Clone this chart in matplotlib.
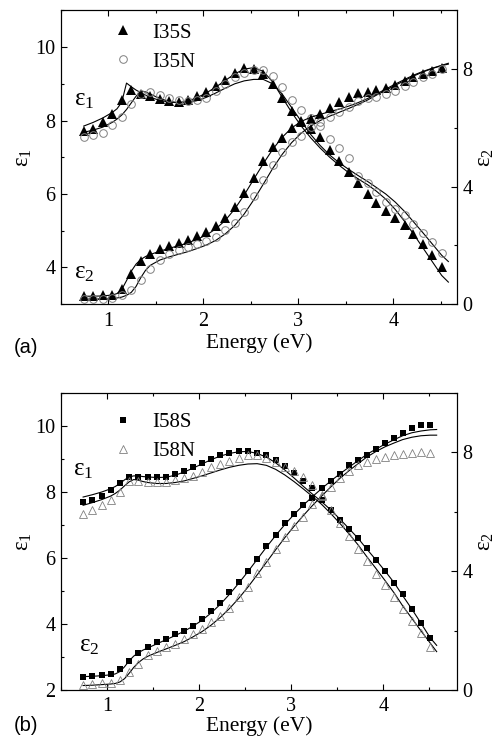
import matplotlib
matplotlib.use('Agg')
import matplotlib.pyplot as plt
from matplotlib.ticker import MultipleLocator

plt.rcParams['font.family'] = 'Liberation Serif'
plt.rcParams['mathtext.fontset'] = 'custom'
plt.rcParams['mathtext.rm'] = 'Liberation Serif'
plt.rcParams['mathtext.it'] = 'Liberation Serif'

# measured photon energies (eV)
energy = [0.74, 0.84, 0.94, 1.04, 1.14, 1.24, 1.34, 1.44, 1.54, 1.64,
          1.74, 1.84, 1.93, 2.03, 2.13, 2.23, 2.33, 2.43, 2.53, 2.63,
          2.73, 2.83, 2.93, 3.03, 3.13, 3.23, 3.33, 3.43, 3.53, 3.63,
          3.73, 3.82, 3.92, 4.02, 4.12, 4.21, 4.31, 4.41, 4.51]

# panel (a) data
i35s_e1 = [7.71, 7.78, 7.95, 8.19, 8.55, 8.84, 8.72, 8.66, 8.58, 8.53,
           8.51, 8.55, 8.66, 8.78, 8.93, 9.10, 9.30, 9.44, 9.40, 9.27,
           9.00, 8.61, 8.25, 7.98, 7.76, 7.54, 7.19, 6.90, 6.60, 6.31,
           6.00, 5.76, 5.54, 5.35, 5.15, 4.91, 4.64, 4.34, 4.02]
i35s_e2 = [0.27, 0.29, 0.30, 0.32, 0.53, 1.04, 1.46, 1.70, 1.86, 1.97,
           2.08, 2.17, 2.31, 2.46, 2.65, 2.94, 3.30, 3.78, 4.30, 4.87,
           5.34, 5.66, 6.00, 6.21, 6.30, 6.47, 6.68, 6.89, 7.04, 7.18,
           7.23, 7.30, 7.36, 7.46, 7.58, 7.74, 7.85, 7.95, 8.04]
i35n_e1 = [7.54, 7.60, 7.67, 7.87, 8.10, 8.46, 8.71, 8.79, 8.69, 8.60,
           8.56, 8.53, 8.56, 8.62, 8.81, 9.00, 9.19, 9.30, 9.37, 9.38,
           9.20, 8.91, 8.57, 8.28, 8.06, 7.84, 7.51, 7.26, 6.97, 6.49,
           6.30, 6.06, 5.79, 5.60, 5.43, 5.18, 4.94, 4.68, 4.39]
i35n_e2 = [0.19, 0.19, 0.19, 0.21, 0.31, 0.48, 0.81, 1.18, 1.49, 1.69,
           1.83, 1.95, 2.06, 2.14, 2.29, 2.51, 2.76, 3.13, 3.67, 4.21,
           4.72, 5.17, 5.51, 5.74, 6.02, 6.20, 6.36, 6.53, 6.70, 6.93,
           7.01, 7.04, 7.15, 7.27, 7.44, 7.55, 7.72, 7.83, 8.00]

# panel (b) data
i58s_e1 = [7.70, 7.76, 7.86, 8.04, 8.27, 8.46, 8.46, 8.44, 8.44, 8.46,
           8.54, 8.64, 8.74, 8.87, 8.99, 9.11, 9.17, 9.22, 9.22, 9.17,
           9.12, 8.96, 8.77, 8.56, 8.32, 8.11, 7.76, 7.46, 7.16, 6.88,
           6.61, 6.29, 5.94, 5.60, 5.25, 4.89, 4.46, 4.03, 3.57]
i58s_e2 = [0.45, 0.46, 0.50, 0.54, 0.69, 0.98, 1.26, 1.45, 1.60, 1.73,
           1.87, 1.99, 2.16, 2.38, 2.65, 2.94, 3.28, 3.63, 4.00, 4.40,
           4.83, 5.22, 5.61, 5.93, 6.23, 6.47, 6.80, 7.02, 7.27, 7.55,
           7.72, 7.91, 8.11, 8.30, 8.48, 8.65, 8.82, 8.92, 8.92]
i58n_e1 = [7.33, 7.45, 7.61, 7.75, 7.99, 8.34, 8.34, 8.31, 8.31, 8.31,
           8.37, 8.42, 8.49, 8.61, 8.74, 8.84, 8.94, 9.02, 9.12, 9.12,
           9.02, 8.89, 8.76, 8.62, 8.44, 8.21, 7.91, 7.45, 7.05, 6.66,
           6.28, 5.90, 5.52, 5.17, 4.81, 4.46, 4.08, 3.71, 3.30]
i58n_e2 = [0.17, 0.20, 0.22, 0.25, 0.34, 0.62, 0.89, 1.17, 1.32, 1.43,
           1.53, 1.70, 1.87, 2.04, 2.29, 2.48, 2.77, 3.13, 3.47, 3.92,
           4.31, 4.73, 5.14, 5.50, 5.82, 6.27, 6.54, 6.82, 7.12, 7.36,
           7.55, 7.68, 7.77, 7.85, 7.89, 7.94, 7.96, 8.00, 7.98]

# model fits (solid lines)
fit_energy = [0.74, 0.84, 0.94, 1.04, 1.09, 1.14, 1.19, 1.24, 1.29, 1.34,
              1.39, 1.44, 1.54, 1.64, 1.74, 1.84, 1.93, 2.03, 2.13, 2.23,
              2.33, 2.43, 2.53, 2.63, 2.73, 2.83, 2.93, 3.03, 3.13, 3.23,
              3.33, 3.43, 3.53, 3.63, 3.73, 3.82, 3.92, 4.02, 4.12, 4.21,
              4.31, 4.41, 4.51, 4.58]
fit_35s_e1 = [7.85, 7.95, 8.07, 8.22, 8.32, 8.50, 9.02, 8.92, 8.83, 8.76,
              8.69, 8.63, 8.55, 8.50, 8.49, 8.53, 8.62, 8.75, 8.91, 9.09,
              9.27, 9.40, 9.44, 9.34, 9.05, 8.63, 8.22, 7.85, 7.53, 7.25,
              7.00, 6.78, 6.58, 6.41, 6.25, 6.08, 5.86, 5.58, 5.25, 4.92,
              4.54, 4.16, 3.78, 3.60]
fit_35n_e1 = [7.68, 7.74, 7.82, 7.95, 8.04, 8.15, 8.30, 8.48, 8.66, 8.80,
              8.78, 8.72, 8.60, 8.52, 8.48, 8.49, 8.54, 8.63, 8.75, 8.88,
              9.00, 9.08, 9.12, 9.12, 9.00, 8.72, 8.35, 7.98, 7.62, 7.32,
              7.06, 6.85, 6.67, 6.50, 6.34, 6.18, 6.00, 5.78, 5.52, 5.25,
              4.95, 4.64, 4.33, 4.16]
fit_35s_e2 = [0.27, 0.27, 0.28, 0.31, 0.36, 0.50, 0.80, 1.12, 1.36, 1.52,
              1.62, 1.69, 1.80, 1.90, 1.99, 2.09, 2.20, 2.35, 2.56, 2.85,
              3.24, 3.72, 4.25, 4.78, 5.27, 5.68, 6.00, 6.22, 6.36, 6.46,
              6.55, 6.64, 6.74, 6.86, 7.00, 7.15, 7.32, 7.49, 7.65, 7.79,
              7.92, 8.03, 8.13, 8.20]
fit_35n_e2 = [0.17, 0.17, 0.18, 0.19, 0.21, 0.24, 0.30, 0.40, 0.60, 0.90,
              1.15, 1.32, 1.50, 1.61, 1.70, 1.79, 1.89, 2.01, 2.17, 2.39,
              2.68, 3.07, 3.55, 4.08, 4.62, 5.10, 5.50, 5.82, 6.06, 6.25,
              6.40, 6.53, 6.66, 6.80, 6.95, 7.11, 7.28, 7.45, 7.61, 7.76,
              7.90, 8.02, 8.12, 8.17]
fit_58s_e1 = [7.84, 7.91, 7.99, 8.09, 8.16, 8.25, 8.36, 8.45, 8.48, 8.48,
              8.46, 8.45, 8.43, 8.44, 8.50, 8.60, 8.71, 8.84, 8.97, 9.08,
              9.16, 9.21, 9.22, 9.16, 9.05, 8.88, 8.66, 8.42, 8.17, 7.93,
              7.70, 7.45, 7.17, 6.88, 6.58, 6.27, 5.94, 5.60, 5.24, 4.86,
              4.45, 4.02, 3.58, 3.35]
fit_58n_e1 = [7.59, 7.67, 7.76, 7.87, 7.95, 8.05, 8.18, 8.30, 8.37, 8.35,
              8.31, 8.28, 8.25, 8.25, 8.28, 8.33, 8.40, 8.48, 8.57, 8.66,
              8.74, 8.80, 8.84, 8.85, 8.80, 8.68, 8.51, 8.31, 8.09, 7.86,
              7.62, 7.34, 7.04, 6.72, 6.38, 6.04, 5.68, 5.31, 4.93, 4.55,
              4.17, 3.79, 3.42, 3.16]
fit_58s_e2 = [0.45, 0.46, 0.48, 0.51, 0.54, 0.62, 0.78, 0.98, 1.14, 1.25,
              1.34, 1.41, 1.55, 1.69, 1.83, 1.98, 2.14, 2.34, 2.59, 2.88,
              3.22, 3.59, 3.98, 4.39, 4.80, 5.19, 5.56, 5.90, 6.21, 6.50,
              6.77, 7.03, 7.27, 7.50, 7.72, 7.92, 8.10, 8.27, 8.42, 8.55,
              8.65, 8.71, 8.75, 8.76]
fit_58n_e2 = [0.15, 0.16, 0.18, 0.20, 0.22, 0.27, 0.38, 0.56, 0.76, 0.92,
              1.04, 1.13, 1.26, 1.38, 1.50, 1.63, 1.78, 1.96, 2.18, 2.44,
              2.74, 3.08, 3.46, 3.87, 4.29, 4.71, 5.12, 5.50, 5.86, 6.20,
              6.52, 6.83, 7.12, 7.38, 7.62, 7.83, 8.02, 8.18, 8.31, 8.42,
              8.50, 8.55, 8.57, 8.57]

E1 = r'$\varepsilon_1$'
E2 = r'$\varepsilon_2$'
GRAY = '#808080'


def style_axes(ax, ax2, xlim, ylim1, ylim2):
    ax.set_xlim(*xlim)
    ax.set_ylim(*ylim1)
    ax2.set_ylim(*ylim2)
    ax.xaxis.set_major_locator(MultipleLocator(1))
    ax.xaxis.set_minor_locator(MultipleLocator(0.5))
    ax.yaxis.set_major_locator(MultipleLocator(2))
    ax.yaxis.set_minor_locator(MultipleLocator(1))
    ax2.yaxis.set_major_locator(MultipleLocator(4))
    ax2.yaxis.set_minor_locator(MultipleLocator(2))
    ax.tick_params(which='both', direction='in', top=True, right=False,
                   labelsize=14.5, width=0.8)
    ax.tick_params(axis='x', which='both', pad=6)
    ax.tick_params(axis='y', which='both', pad=4)
    ax.tick_params(which='major', length=4)
    ax.tick_params(which='minor', length=2.5)
    ax2.tick_params(which='both', direction='in', labelsize=14.5, width=0.8, pad=4)
    ax2.tick_params(which='major', length=4)
    ax2.tick_params(which='minor', length=2.5)
    for a in (ax, ax2):
        for s in a.spines.values():
            s.set_linewidth(0.8)
    ax.set_ylabel(E1, fontsize=16.5, labelpad=1)
    ax2.set_ylabel(E2, fontsize=16.5, labelpad=2)


fig = plt.figure(figsize=(4.98, 7.4), dpi=100)

# ---- panel (a)
ax = fig.add_axes([0.1225, 0.589, 0.795, 0.397])
ax2 = ax.twinx()
ax.plot(fit_energy, fit_35s_e1, 'k-', lw=0.8)
ax.plot(fit_energy, fit_35n_e1, 'k-', lw=0.8)
ax2.plot(fit_energy, fit_35s_e2, 'k-', lw=0.8)
ax2.plot(fit_energy, fit_35n_e2, 'k-', lw=0.8)
h1, = ax.plot(energy, i35s_e1, '^', color='k', ms=6.5, mew=0, label='I35S')
h2, = ax.plot(energy, i35n_e1, 'o', mfc='none', mec=GRAY, ms=5.5, mew=0.7, label='I35N')
ax2.plot(energy, i35s_e2, '^', color='k', ms=6.5, mew=0)
ax2.plot(energy, i35n_e2, 'o', mfc='none', mec=GRAY, ms=5.5, mew=0.7)
style_axes(ax, ax2, (0.5, 4.67), (3, 11), (0, 10))
ax.set_xlabel('Energy (eV)', fontsize=15.5, labelpad=1)
ax.legend(handles=[h1, h2], loc='upper left', bbox_to_anchor=(0.13, 0.957),
          frameon=False, fontsize=15, handlelength=1.0, handletextpad=0.9,
          borderpad=0, borderaxespad=0, labelspacing=0.45)
ax.text(0.033, 0.677, E1, transform=ax.transAxes, fontsize=18, va='baseline')
ax.text(0.033, 0.088, E2, transform=ax.transAxes, fontsize=18, va='baseline')
fig.text(0.028, 0.531, '(a)', family='Liberation Sans', fontsize=14.5, va='center')

# ---- panel (b)
bx = fig.add_axes([0.1225, 0.0676, 0.795, 0.4018])
bx2 = bx.twinx()
bx.plot(fit_energy, fit_58s_e1, 'k-', lw=0.8)
bx.plot(fit_energy, fit_58n_e1, 'k-', lw=0.8)
bx2.plot(fit_energy, fit_58s_e2, 'k-', lw=0.8)
bx2.plot(fit_energy, fit_58n_e2, 'k-', lw=0.8)
g1, = bx.plot(energy, i58s_e1, 's', color='k', ms=5, mew=0, label='I58S')
g2, = bx.plot(energy, i58n_e1, '^', mfc='none', mec=GRAY, ms=5.5, mew=0.6, label='I58N')
bx2.plot(energy, i58s_e2, 's', color='k', ms=5, mew=0)
bx2.plot(energy, i58n_e2, '^', mfc='none', mec=GRAY, ms=5.5, mew=0.6)
style_axes(bx, bx2, (0.5, 4.8), (2, 11), (0, 10))
bx.tick_params(axis='x', which='both', pad=5)
bx.set_xlabel('Energy (eV)', fontsize=15.5, labelpad=0.5)
bx.legend(handles=[g1, g2], loc='upper left', bbox_to_anchor=(0.13, 0.932),
          frameon=False, fontsize=15, handlelength=1.0, handletextpad=0.9,
          borderpad=0, borderaxespad=0, labelspacing=0.45)
bx.text(0.031, 0.72, E1, transform=bx.transAxes, fontsize=18, va='baseline')
bx.text(0.046, 0.129, E2, transform=bx.transAxes, fontsize=18, va='baseline')
fig.text(0.028, 0.02, '(b)', family='Liberation Sans', fontsize=14.5, va='center')

fig.savefig('out.png', dpi=100)
